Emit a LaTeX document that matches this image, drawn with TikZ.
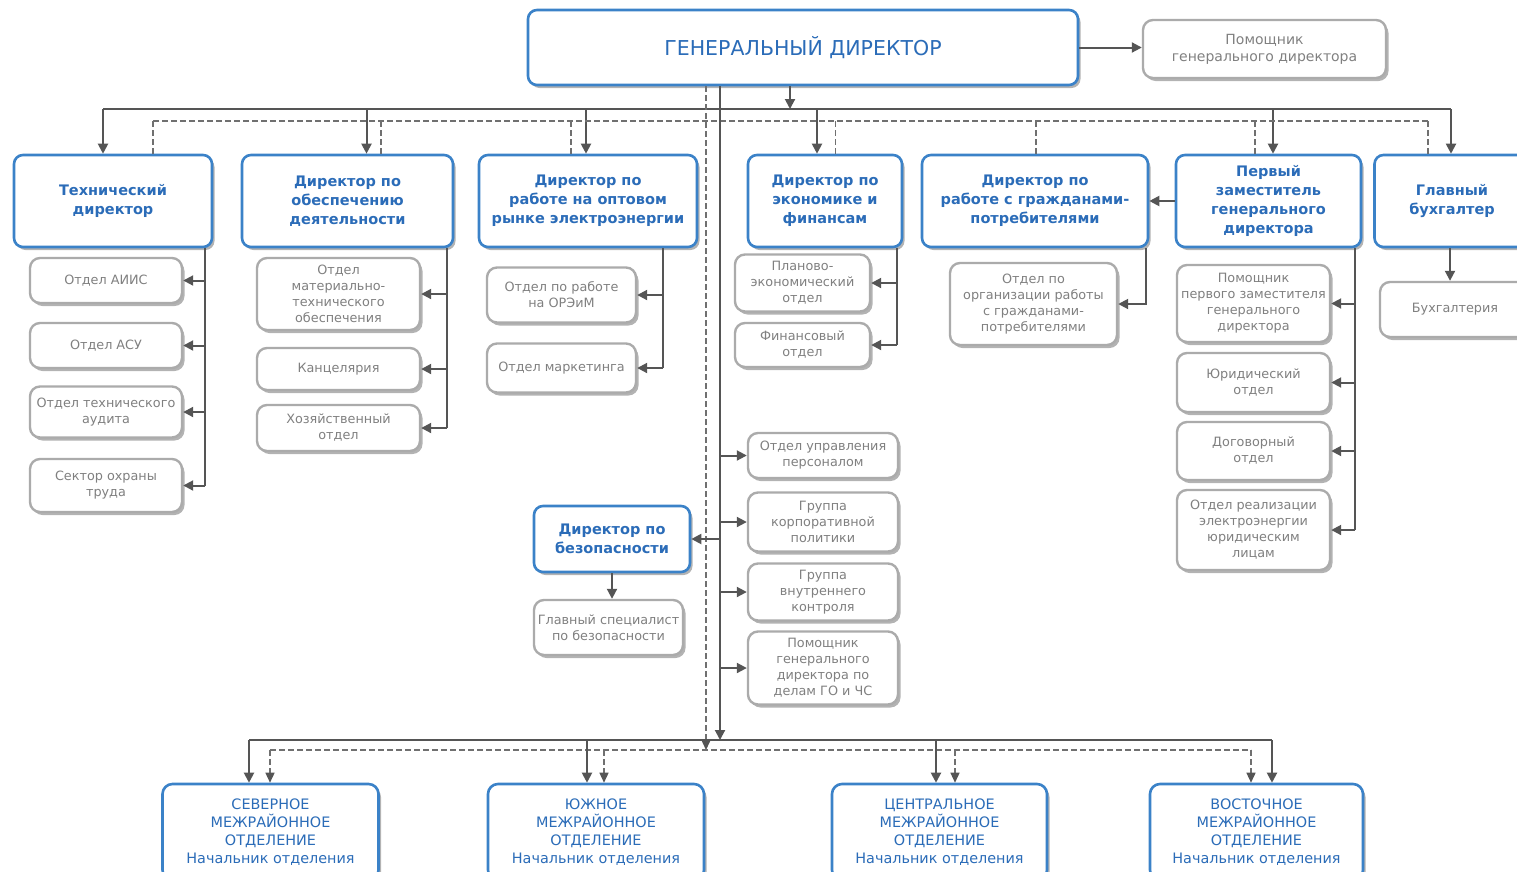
\documentclass[tikz,border=0pt]{standalone}
\usepackage{fontspec}
\setmainfont{DejaVu Sans}
\usetikzlibrary{arrows.meta,shadows}
\definecolor{bblue}{HTML}{3B82C8}
\definecolor{tblue}{HTML}{2B6CB8}
\definecolor{bgray}{HTML}{ABABAB}
\definecolor{tgray}{HTML}{808080}
\definecolor{lcol}{HTML}{555555}
\definecolor{dcol}{HTML}{707070}
\newcommand{\dirf}{\bfseries\fontsize{14.5}{19}\selectfont}
\newcommand{\subf}{\fontsize{12.8}{16}\selectfont}
\newcommand{\gdf}{\fontsize{20.5}{24}\selectfont}
\newcommand{\asf}{\fontsize{14}{17}\selectfont}
\newcommand{\btf}{\fontsize{14.4}{18}\selectfont}
\tikzset{
  sz/.style 2 args={minimum width=#1pt, minimum height=#2pt},
  shd/.style={drop shadow={shadow xshift=2.5pt, shadow yshift=-3pt, fill=black!50, opacity=0.6}},
  dirbox/.style={shd, draw=bblue, line width=2.6pt, rounded corners=9pt, fill=white,
    text=tblue, font=\dirf, align=center, inner sep=1pt},
  subbox/.style={shd, draw=bgray, line width=2.4pt, rounded corners=10pt, fill=white,
    text=tgray, font=\subf, align=center, inner sep=1pt},
  btbox/.style={shd, draw=bblue, line width=2.6pt, rounded corners=10pt, fill=white,
    text=tblue, font=\btf, align=center, inner sep=1pt},
  conn/.style={draw=lcol, line width=2pt},
  arr/.style={conn, -{Triangle[length=10pt,width=10pt]}},
  dsh/.style={draw=dcol, line width=1.4pt, dash pattern=on 6pt off 3pt},
  darr/.style={dsh, -{Triangle[length=10pt,width=9pt,color=lcol]}},
}
\begin{document}
\begin{tikzpicture}[x=1pt,y=-1pt]
\useasboundingbox (0,0) rectangle (1517,871);
\clip (0,0) rectangle (1517,871);

% ---- top ----
\node[dirbox, sz={550}{75}, font=\gdf] (gd) at (803,47.5) {ГЕНЕРАЛЬНЫЙ ДИРЕКТОР};
\node[subbox, sz={243}{58}, font=\asf] (asst) at (1264.5,49) {Помощник\\генерального директора};

% ---- directors row ----
\node[dirbox, sz={198}{92}] (tech)  at (113,201)    {Технический\\директор};
\node[dirbox, sz={211}{92}] (obesp) at (347.5,201)  {Директор по\\обеспечению\\деятельности};
\node[dirbox, sz={218}{92}] (opt)   at (588,201)    {Директор по\\работе на оптовом\\рынке электроэнергии};
\node[dirbox, sz={154}{92}] (econ)  at (825,201)    {Директор по\\экономике и\\финансам};
\node[dirbox, sz={226}{92}] (grazh) at (1035,201)   {Директор по\\работе с гражданами-\\потребителями};
\node[dirbox, sz={185}{92}] (perv)  at (1268.5,201) {Первый\\заместитель\\генерального\\директора};
\node[dirbox, sz={155}{92}] (glav)  at (1452,201)   {Главный\\бухгалтер};

% ---- technical ----
\node[subbox, sz={152}{45}] (aiis)  at (106,280.5) {Отдел АИИС};
\node[subbox, sz={152}{45}] (asu)   at (106,345.5) {Отдел АСУ};
\node[subbox, sz={152}{51}] (audit) at (106,412)   {Отдел технического\\аудита};
\node[subbox, sz={152}{53}] (ohr)   at (106,485.5) {Сектор охраны\\труда};

% ---- obespechenie ----
\node[subbox, sz={163}{72}] (mto)  at (338.5,294) {Отдел\\материально-\\технического\\обеспечения};
\node[subbox, sz={163}{42}] (kanc) at (338.5,369) {Канцелярия};
\node[subbox, sz={163}{46}] (hoz)  at (338.5,428) {Хозяйственный\\отдел};

% ---- opt ----
\node[subbox, sz={149}{55}] (orem) at (561.5,295) {Отдел по работе\\на ОРЭиМ};
\node[subbox, sz={149}{49}] (mark) at (561.5,368) {Отдел маркетинга};

% ---- econ ----
\node[subbox, sz={135}{57}] (plan) at (802.5,283) {Планово-\\экономический\\отдел};
\node[subbox, sz={135}{44}] (fin)  at (802.5,345) {Финансовый\\отдел};

% ---- grazh ----
\node[subbox, sz={167}{82}] (org) at (1033.5,304) {Отдел по\\организации работы\\с гражданами-\\потребителями};

% ---- perv ----
\node[subbox, sz={153}{77}] (pomp) at (1253.5,303.5) {Помощник\\первого заместителя\\генерального\\директора};
\node[subbox, sz={153}{59}] (yur)  at (1253.5,382.5) {Юридический\\отдел};
\node[subbox, sz={153}{58}] (dog)  at (1253.5,451)   {Договорный\\отдел};
\node[subbox, sz={153}{80}] (real) at (1253.5,530)   {Отдел реализации\\электроэнергии\\юридическим\\лицам};

% ---- buh ----
\node[subbox, sz={150}{55}] (buh) at (1455,309.5) {Бухгалтерия};

% ---- middle ----
\node[subbox, sz={150}{45}] (upr)   at (823,455.5) {Отдел управления\\персоналом};
\node[subbox, sz={150}{59}] (korp)  at (823,522)   {Группа\\корпоративной\\политики};
\node[subbox, sz={150}{57}] (vnutr) at (823,592)   {Группа\\внутреннего\\контроля};
\node[subbox, sz={150}{73}] (go)    at (823,668)   {Помощник\\генерального\\директора по\\делам ГО и ЧС};

\node[dirbox, sz={156}{66}] (bez)   at (612,539)   {Директор по\\безопасности};
\node[subbox, sz={149}{55}] (gspec) at (608.5,627.5) {Главный специалист\\по безопасности};

% ---- bottom ----
\node[btbox, sz={216}{96}] (sev)   at (270.5,832) {СЕВЕРНОЕ\\МЕЖРАЙОННОЕ\\ОТДЕЛЕНИЕ\\Начальник отделения};
\node[btbox, sz={216}{96}] (yuzh)  at (596,832)   {ЮЖНОЕ\\МЕЖРАЙОННОЕ\\ОТДЕЛЕНИЕ\\Начальник отделения};
\node[btbox, sz={215}{96}] (centr) at (939.5,832) {ЦЕНТРАЛЬНОЕ\\МЕЖРАЙОННОЕ\\ОТДЕЛЕНИЕ\\Начальник отделения};
\node[btbox, sz={213}{96}] (vost)  at (1256.5,832) {ВОСТОЧНОЕ\\МЕЖРАЙОННОЕ\\ОТДЕЛЕНИЕ\\Начальник отделения};

% ---- coordinates ----
\coordinate (gdb) at (790,109);
\coordinate (b1) at (103,109);
\coordinate (b2) at (366.5,109);
\coordinate (b3) at (586,109);
\coordinate (b4) at (817,109);
\coordinate (b5) at (1273,109);
\coordinate (b6) at (1451,109);
\coordinate (d1) at (153,121);
\coordinate (d2) at (381,121);
\coordinate (d3) at (571,121);
\coordinate (d4) at (835.5,121);
\coordinate (d5) at (1036,121);
\coordinate (d6) at (1255,121);
\coordinate (d7) at (1428,121);
\coordinate (ms) at (720,740);
\coordinate (md) at (706,750);
\coordinate (sb1) at (249,740);
\coordinate (sb2) at (587,740);
\coordinate (sb3) at (936,740);
\coordinate (sb4) at (1272,740);
\coordinate (db1) at (270,750);
\coordinate (db2) at (604,750);
\coordinate (db3) at (955,750);
\coordinate (db4) at (1251,750);
\coordinate (tv) at (205,0);
\coordinate (ov) at (447,0);
\coordinate (pv) at (663,0);
\coordinate (ev) at (897,0);
\coordinate (gv) at (1146,0);
\coordinate (fv) at (1355,0);
\coordinate (bv) at (1450,0);

% ---- connectors top ----
\draw[arr] (gd.east) -- (gd.east -| asst.west);
\draw[arr] (gdb |- gd.south) -- (gdb);
\draw[conn] (b1) -- (b6);
\draw[arr] (b1) -- (b1 |- tech.north);
\draw[arr] (b2) -- (b2 |- obesp.north);
\draw[arr] (b3) -- (b3 |- opt.north);
\draw[arr] (b4) -- (b4 |- econ.north);
\draw[arr] (b5) -- (b5 |- perv.north);
\draw[arr] (b6) -- (b6 |- glav.north);
\draw[dsh] (d1) -- (d7);
\draw[dsh] (d1) -- (d1 |- tech.north);
\draw[dsh] (d2) -- (d2 |- obesp.north);
\draw[dsh] (d3) -- (d3 |- opt.north);
\draw[dsh] (d4) -- (d4 |- econ.north);
\draw[dsh] (d5) -- (d5 |- grazh.north);
\draw[dsh] (d6) -- (d6 |- perv.north);
\draw[dsh] (d7) -- (d7 |- glav.north);

% main verticals
\draw[darr] (md |- gd.south) -- (md);
\draw[arr] (ms |- gd.south) -- (ms);

% technical
\draw[conn] (tv |- tech.south) -- (tv |- ohr.east);
\draw[arr] (tv |- aiis.east) -- (aiis.east);
\draw[arr] (tv |- asu.east) -- (asu.east);
\draw[arr] (tv |- audit.east) -- (audit.east);
\draw[arr] (tv |- ohr.east) -- (ohr.east);
% obesp
\draw[conn] (ov |- obesp.south) -- (ov |- hoz.east);
\draw[arr] (ov |- mto.east) -- (mto.east);
\draw[arr] (ov |- kanc.east) -- (kanc.east);
\draw[arr] (ov |- hoz.east) -- (hoz.east);
% opt
\draw[conn] (pv |- opt.south) -- (pv |- mark.east);
\draw[arr] (pv |- orem.east) -- (orem.east);
\draw[arr] (pv |- mark.east) -- (mark.east);
% econ
\draw[conn] (ev |- econ.south) -- (ev |- fin.east);
\draw[arr] (ev |- plan.east) -- (plan.east);
\draw[arr] (ev |- fin.east) -- (fin.east);
% grazh
\draw[arr] (gv |- grazh.south) -- (gv |- org.east) -- (org.east);
\draw[arr] (perv.west) -- (grazh.east);
% perv
\draw[conn] (fv |- perv.south) -- (fv |- real.east);
\draw[arr] (fv |- pomp.east) -- (pomp.east);
\draw[arr] (fv |- yur.east) -- (yur.east);
\draw[arr] (fv |- dog.east) -- (dog.east);
\draw[arr] (fv |- real.east) -- (real.east);
% buh
\draw[arr] (bv |- glav.south) -- (bv |- buh.north);
% middle
\draw[arr] (ms |- upr.west) -- (upr.west);
\draw[arr] (ms |- korp.west) -- (korp.west);
\draw[arr] (ms |- vnutr.west) -- (vnutr.west);
\draw[arr] (ms |- go.west) -- (go.west);
\draw[arr] (ms |- bez.east) -- (bez.east);
\draw[arr] (bez.south) -- (bez.south |- gspec.north);

% bottom
\draw[conn] (sb1) -- (sb4);
\draw[dsh] (db1) -- (db4);
\draw[arr] (sb1) -- (sb1 |- sev.north);
\draw[arr] (sb2) -- (sb2 |- yuzh.north);
\draw[arr] (sb3) -- (sb3 |- centr.north);
\draw[arr] (sb4) -- (sb4 |- vost.north);
\draw[darr] (db1) -- (db1 |- sev.north);
\draw[darr] (db2) -- (db2 |- yuzh.north);
\draw[darr] (db3) -- (db3 |- centr.north);
\draw[darr] (db4) -- (db4 |- vost.north);
\end{tikzpicture}
\end{document}
